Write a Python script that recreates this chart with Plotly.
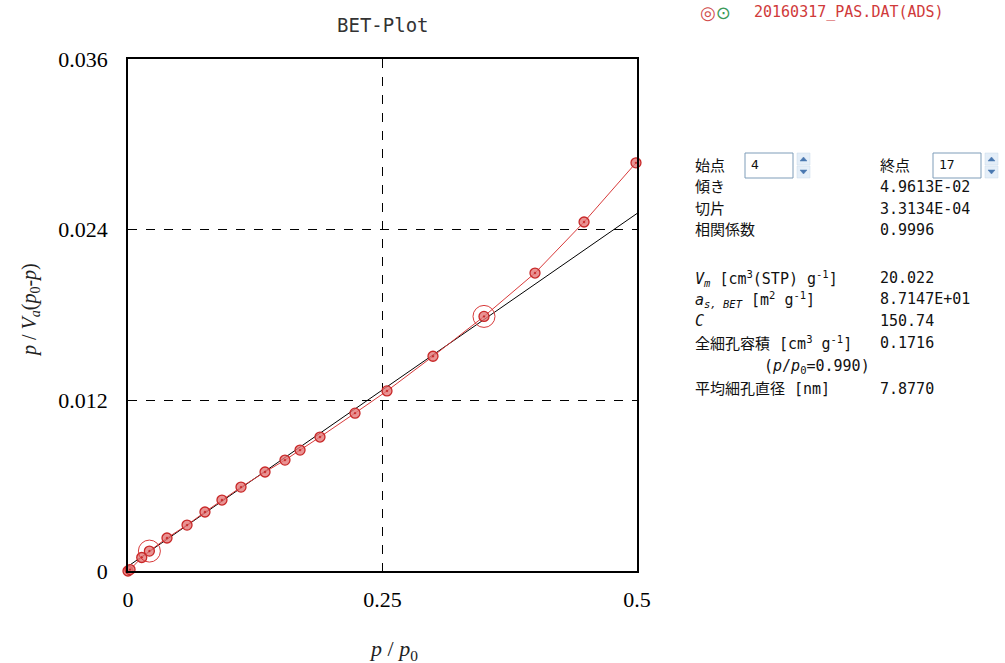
import plotly.graph_objects as go

# ---- data ----
p_rel = [0.0, 0.002, 0.0135, 0.021, 0.0383, 0.058, 0.0756, 0.0923, 0.111, 0.1346,
         0.1542, 0.169, 0.1886, 0.223, 0.2544, 0.2996, 0.3497, 0.3998, 0.448, 0.499]
bet_y = [0.0, 0.0001, 0.00095, 0.0014, 0.00232, 0.00323, 0.00415, 0.00499, 0.0059, 0.00696,
         0.0078, 0.0085, 0.00942, 0.0111, 0.01266, 0.0151, 0.0179, 0.02095, 0.02454, 0.0287]
start_pt = 4
end_pt = 17
slope = 4.9613e-02
intercept = 3.3134e-04
fit_x = [0.0, 0.5]
x_ticks = [0, 0.25, 0.5]
x_ticklabels = ["0", "0.25", "0.5"]
y_ticks = [0, 0.012, 0.024, 0.036]
y_ticklabels = ["0", "0.012", "0.024", "0.036"]

panel_labels = ["傾き", "切片", "相関係数", "",
                "<i>V<sub>m</sub></i> [cm<sup>3</sup>(STP) g<sup>-1</sup>]",
                "<i>a<sub>s, BET</sub></i> [m<sup>2</sup> g<sup>-1</sup>]",
                "<i>C</i>",
                "全細孔容積 [cm<sup>3</sup> g<sup>-1</sup>]",
                "",
                "平均細孔直径 [nm]"]
panel_values = ["4.9613E-02", "3.3134E-04", "0.9996", "",
                "20.022", "8.7147E+01", "150.74", "0.1716", "", "7.8770"]
panel_y = [187, 209, 230, 0, 278, 299, 321, 343, 366, 389]

RED = "#d83a3a"
W, H = 1005, 663
L, R, T, B = 128, 637, 59, 571

fig = go.Figure()

fig.add_trace(go.Scatter(
    x=fit_x, y=[slope * v + intercept for v in fit_x], mode="lines",
    line=dict(color="black", width=1), showlegend=False, hoverinfo="skip"))

fig.add_trace(go.Scatter(
    x=p_rel, y=bet_y, mode="lines+markers", cliponaxis=False,
    line=dict(color=RED, width=1),
    marker=dict(symbol="circle-dot", size=10, color="rgba(228,120,120,0.8)",
                line=dict(color="#c82828", width=1.3)),
    showlegend=False))

fig.add_trace(go.Scatter(
    x=[p_rel[start_pt - 1], p_rel[end_pt - 1]],
    y=[bet_y[start_pt - 1], bet_y[end_pt - 1]],
    mode="markers", cliponaxis=False,
    marker=dict(symbol="circle-open", size=22, color=RED, line=dict(color=RED, width=1)),
    showlegend=False))

serif = "Liberation Serif, Times New Roman, serif"
mono = "DejaVu Sans Mono, Noto Sans CJK JP, monospace"

fig.update_layout(
    width=W, height=H,
    margin=dict(l=L, r=W - R, t=T, b=H - B),
    paper_bgcolor="white", plot_bgcolor="white",
    xaxis=dict(range=[0, 0.5], tickvals=x_ticks, ticktext=x_ticklabels,
               showgrid=True, gridcolor="black", griddash="dash", gridwidth=1,
               zeroline=False, showline=True, linecolor="black", linewidth=1.5,
               mirror=True, ticks="", ticklabelstandoff=8,
               tickfont=dict(family=serif, size=22, color="black")),
    yaxis=dict(range=[0, 0.036], tickvals=y_ticks, ticktext=y_ticklabels,
               showgrid=True, gridcolor="black", griddash="dash", gridwidth=1,
               zeroline=False, showline=True, linecolor="black", linewidth=1.5,
               mirror=True, ticks="", ticklabelstandoff=14,
               tickfont=dict(family=serif, size=22, color="black")),
)

ann = []
ann.append(dict(x=383, y=25, xanchor="center", text="BET-Plot",
                font=dict(family=mono, size=19, color="#333"), showarrow=False))
ann.append(dict(x=393, y=650, xanchor="center", text="<i>p</i> / <i>p</i><sub>0</sub>",
                font=dict(family=serif, size=22, color="#222"), showarrow=False))
ann.append(dict(x=30, y=310, xanchor="center", text="<i>p</i> / <i>V<sub>a</sub></i>(<i>p</i><sub>0</sub>-<i>p</i>)",
                textangle=-90, font=dict(family=serif, size=20, color="#222"), showarrow=False))
ann.append(dict(x=698, y=12, xanchor="left",
                text="<span style='color:#d04a4a'>◎</span><span style='color:#3a9a5a'>⊙</span>",
                font=dict(family="DejaVu Sans", size=18), showarrow=False))
ann.append(dict(x=752, y=12, xanchor="left", text="20160317_PAS.DAT(ADS)",
                font=dict(family=mono, size=15, color="#d03a3a"), showarrow=False))
ann.append(dict(x=693, y=166, xanchor="left", text="始点",
                font=dict(family=mono, size=15, color="#111"), showarrow=False))
ann.append(dict(x=878, y=166, xanchor="left", text="終点",
                font=dict(family=mono, size=15, color="#111"), showarrow=False))
ann.append(dict(x=749, y=164, xanchor="left", text=str(start_pt),
                font=dict(family=mono, size=13, color="#111"), showarrow=False))
ann.append(dict(x=937, y=164, xanchor="left", text=str(end_pt),
                font=dict(family=mono, size=13, color="#111"), showarrow=False))
for lab, val, yy in zip(panel_labels, panel_values, panel_y):
    if lab:
        ann.append(dict(x=693, y=yy, xanchor="left", text=lab,
                        font=dict(family=mono, size=15, color="#111"), showarrow=False))
    if val:
        ann.append(dict(x=878, y=yy, xanchor="left", text=val,
                        font=dict(family=mono, size=15, color="#111"), showarrow=False))
ann.append(dict(x=762, y=366, xanchor="left", text="(<i>p</i>/<i>p</i><sub>0</sub>=0.990)",
                font=dict(family=mono, size=15, color="#111"), showarrow=False))

# convert pixel positions to paper coords
for a in ann:
    a["xref"] = "paper"; a["yref"] = "paper"; a["yanchor"] = "middle"
    a["x"] = (a["x"] - L) / (R - L)
    a["y"] = (B - a["y"]) / (B - T)
fig.update_layout(annotations=ann)

shapes = []
def px_rect(x0, y0, x1, y1, line, fill, width=1):
    shapes.append(dict(type="rect", xref="paper", yref="paper",
                       x0=(x0 - L) / (R - L), x1=(x1 - L) / (R - L),
                       y0=(B - y0) / (B - T), y1=(B - y1) / (B - T),
                       line=dict(color=line, width=width), fillcolor=fill))
def px_tri(cx, cy, up):
    d = -1 if up else 1
    pts = [(cx - 3.5, cy - 2 * d), (cx + 3.5, cy - 2 * d), (cx, cy + 2 * d)]
    path = "M " + " L ".join(f"{(x - L) / (R - L)},{(B - y) / (B - T)}" for x, y in pts) + " Z"
    shapes.append(dict(type="path", xref="paper", yref="paper", path=path,
                       line=dict(color="#4a78b0", width=0.5), fillcolor="#4a78b0"))

for bx in (745, 933):
    px_rect(bx, 153, bx + 48, 178, "#7f9db9", "white")
    ax = bx + 52
    px_rect(ax, 153, ax + 13, 165, "#c8d8ea", "#e4eef8", 0.5)
    px_rect(ax, 166, ax + 13, 178, "#c8d8ea", "#e4eef8", 0.5)
    px_tri(ax + 6.5, 159, True)
    px_tri(ax + 6.5, 172, False)
fig.update_layout(shapes=shapes)

fig.write_html("out.html")
